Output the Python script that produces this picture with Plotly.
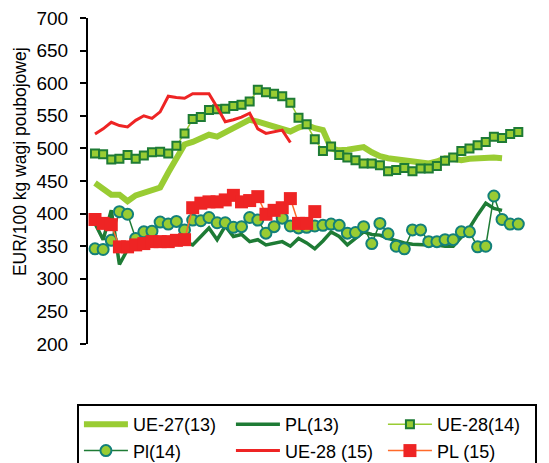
import plotly.graph_objects as go

# week numbers shown on the category axis
week_labels = list(range(1, 54, 4))

# EUR/100 kg wagi poubojowej, tygodniowo
ue27_13 = [447, 439, 429, 429, 419, 428, 432, 435, 440, 463, 485, 506, 510, 515, 521,
           518, 524, 530, 536, 544, 541, 537, 534, 528, 526, 532, 536, 531, 528, 500,
           497, 498, 499, 502, 494, 488, 485, 483, 482, 480, 478, 477, 480, 485, 484,
           482, 484, 485, 486, 486, 485]
pl_13 = [385, 360, 405, 322, 345, 350, 353, 355, 357, 358, 360, 357, 352, 365, 378,
         360, 381, 365, 368, 357, 360, 352, 355, 357, 350, 362, 355, 346, 358, 372,
         365, 352, 362, 372, 368, 367, 362, 358, 355, 353, 352, 352, 352, 350, 350,
         365, 378, 398, 416, 408, 405]
ue28_14 = [492, 491, 483, 484, 490, 484, 489, 494, 495, 492, 504, 523, 545, 548, 559,
           560, 561, 565, 567, 572, 590, 586, 584, 580, 570, 547, 537, 514, 496, 503,
           490, 486, 482, 477, 477, 474, 465, 467, 470, 465, 469, 469, 473, 481, 486,
           496, 500, 505, 510, 518, 516, 522, 525]
pl_14 = [346, 345, 359, 403, 399, 362, 372, 373, 387, 384, 388, 375, 390, 389, 394,
         386, 386, 379, 380, 394, 390, 370, 380, 393, 381, 378, 379, 381, 382, 384,
         382, 370, 371, 380, 354, 385, 369, 350, 346, 375, 375, 357, 357, 360, 360,
         372, 372, 349, 350, 427, 391, 384, 384]
ue28_15 = [522, 530, 540, 535, 533, 543, 550, 546, 556, 580, 578, 577, 584, 584, 584,
           563, 541, 544, 548, 554, 530, 523, 526, 528, 509]
pl_15 = [391, 385, 383, 349, 349, 352, 354, 357, 357, 357, 359, 360, 409, 416, 418,
         418, 421, 428, 418, 420, 426, 399, 405, 409, 423, 385, 385, 403]

LIGHT = '#99cc33'
DARK = '#1e7b35'
TEAL = '#13807a'
RED = '#ee2424'
ORANGE = '#ff6a2a'
FONT = 'Liberation Sans, Arial, sans-serif'


def weeks(values):
    return list(range(1, len(values) + 1))


fig = go.Figure()
fig.add_trace(go.Scatter(x=weeks(ue27_13), y=ue27_13, name='UE-27(13)', mode='lines',
                         line=dict(color=LIGHT, width=6), xaxis='x2'))
fig.add_trace(go.Scatter(x=weeks(pl_13), y=pl_13, name='PL(13)', mode='lines',
                         line=dict(color=DARK, width=3.5), xaxis='x2'))
fig.add_trace(go.Scatter(x=weeks(ue28_14), y=ue28_14, name='UE-28(14)', mode='lines+markers',
                         line=dict(color=LIGHT, width=1.5),
                         marker=dict(symbol='square', size=8, color=LIGHT,
                                     line=dict(color=DARK, width=2)), xaxis='x2'))
fig.add_trace(go.Scatter(x=weeks(pl_14), y=pl_14, name='Pl(14)', mode='lines+markers',
                         line=dict(color=DARK, width=1.5),
                         marker=dict(symbol='circle', size=11, color=LIGHT,
                                     line=dict(color=TEAL, width=2)), xaxis='x2'))
fig.add_trace(go.Scatter(x=weeks(ue28_15), y=ue28_15, name='UE-28 (15)', mode='lines',
                         line=dict(color=RED, width=3), xaxis='x2'))
fig.add_trace(go.Scatter(x=weeks(pl_15), y=pl_15, name='PL (15)', mode='lines+markers',
                         line=dict(color=ORANGE, width=1.5),
                         marker=dict(symbol='square', size=13, color=RED), xaxis='x2'))

# the page body keeps its default 8px margin, so the figure is 8px smaller
fig.update_layout(
    width=541, height=455, autosize=False,
    margin=dict(l=80, r=0, t=10, b=119, autoexpand=False),
    paper_bgcolor='white', plot_bgcolor='white',
    font=dict(family=FONT, size=18, color='black'),
    showlegend=True,
    legend=dict(orientation='h', x=-0.024, y=-0.184, xanchor='left', yanchor='top',
                bordercolor='black', borderwidth=2, entrywidth=93, entrywidthmode='pixels',
                itemwidth=44, font=dict(size=18)),
    xaxis=dict(range=[0.65, 60.21], tickmode='array', tickvals=week_labels,
               ticktext=[str(w) for w in week_labels], ticks='', showgrid=False,
               zeroline=False, showline=True, linecolor='black', linewidth=2,
               ticklabelstandoff=20, tickfont=dict(size=18),
               minor=dict(ticks='outside', tick0=0.65, dtick=0.775, ticklen=6,
                          tickcolor='black', tickwidth=1.5, showgrid=False)),
    xaxis2=dict(range=[0.14, 56.77], overlaying='x', visible=False),
    yaxis=dict(range=[200, 700], dtick=50, ticks='outside', ticklen=6, tickwidth=1.5,
               tickcolor='black', showgrid=False, zeroline=False, showline=True,
               linecolor='black', linewidth=2, ticklabelstandoff=8,
               ticklabeloverflow='allow', tickfont=dict(size=19)),
    annotations=[dict(text='EUR/100 kg wagi poubojowej', textangle=-90,
                      xref='paper', yref='paper', x=-0.1475, y=0.558,
                      xanchor='center', yanchor='middle', showarrow=False,
                      font=dict(size=17.5))],
)

fig.write_html("out.html")
